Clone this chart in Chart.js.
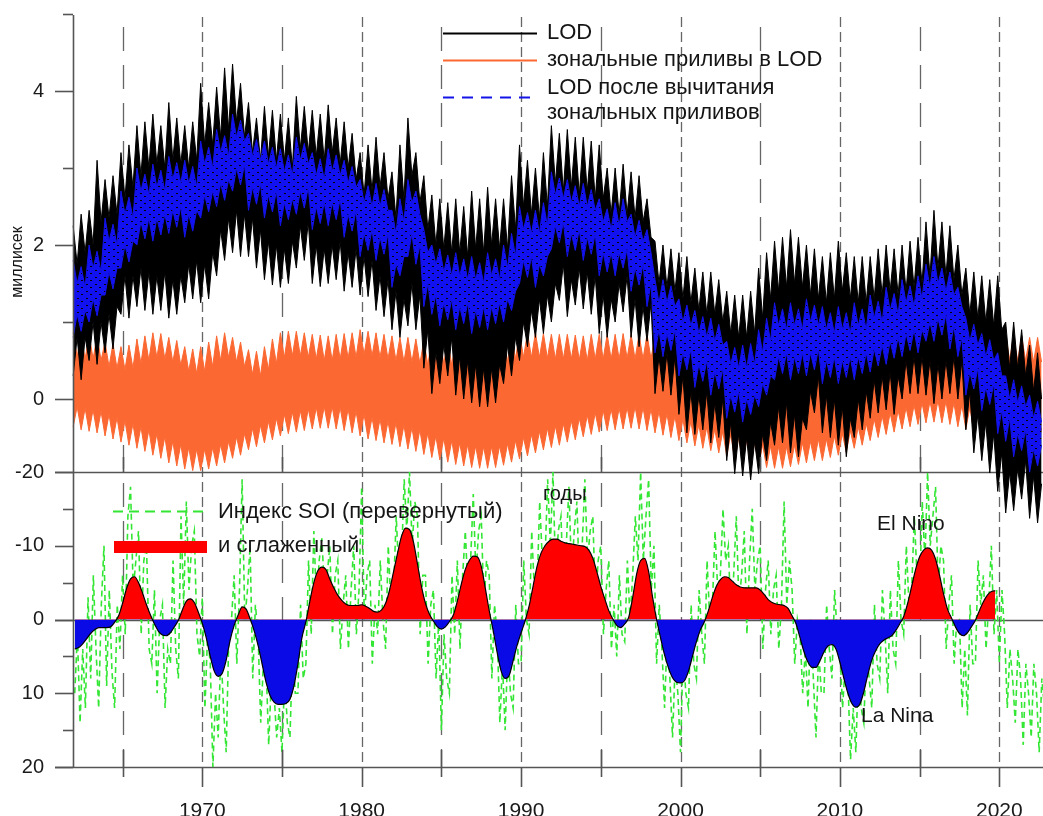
<!DOCTYPE html>
<html>
<head>
<meta charset="utf-8">
<script src="https://cdn.jsdelivr.net/npm/chart.js@4.4.0/dist/chart.umd.min.js"></script>
<style>
html, body { margin: 0; padding: 0; background: #fff; overflow: hidden; }
</style>
</head>
<body>
<canvas id="lod" width="1043" height="830"></canvas>
<script>
Chart.defaults.font.family = '"Liberation Sans", Arial, sans-serif';
Chart.defaults.color = '#1a1a1a';

// sampling: quarter-year steps for LOD and the smoothed SOI, two-month steps for raw SOI
var STEP = 0.25;
var SOI_STEP = 1 / 6;
var LOD_START = 1961.9;
var SOI_START = 1962.0;

var gridYears = [1965, 1970, 1975, 1980, 1985, 1990, 1995, 2000, 2005, 2010, 2015, 2020];
var lodTicks = [0, 2, 4];
var soiTicks = [-20, -10, 0, 10, 20];

// LOD, upper and lower edge of the black band (ms)
var lodHi = [
  2.25,1.75,2.4,1.9, 2.45,2.0,3.1,2.3, 2.85,2.35,2.9,2.4, 3.2,2.6,3.3,2.75, 3.55,2.9,3.6,3.0,
  3.7,3.05,3.55,3.0, 3.85,3.1,3.65,3.05, 3.55,3.0,3.6,3.1, 4.1,3.3,3.85,3.3, 4.05,3.4,4.3,3.5,
  4.35,3.6,4.1,3.4, 3.85,3.2,3.65,3.1, 3.8,3.15,3.75,3.1, 3.7,3.1,3.65,3.0, 3.93,3.25,3.8,3.2,
  3.75,3.15,3.7,3.1, 3.82,3.2,3.65,3.05, 3.6,3.0,3.45,2.85, 3.2,2.65,3.3,2.7, 3.4,2.75,3.2,2.6,
  2.95,2.35,3.3,2.6, 3.65,2.9,3.2,2.55, 2.9,2.2,2.65,2.0, 2.6,1.95,2.55,1.9, 2.6,1.9,2.5,1.85,
  2.7,1.95,2.6,1.9, 2.75,2.0,2.6,1.95, 2.6,1.95,2.9,2.2, 3.3,2.5,3.1,2.4, 3.0,2.35,3.2,2.5,
  3.55,2.8,3.45,2.7, 3.5,2.75,3.4,2.65, 3.4,2.7,3.35,2.6, 3.3,2.6,3.0,2.4, 3.0,2.4,3.05,2.4,
  2.95,2.35,2.9,2.3, 2.6,2.1,2.05,1.5, 2.0,1.45,1.95,1.4, 1.9,1.3,1.85,1.25, 1.7,1.15,1.65,1.1,
  1.65,1.1,1.55,1.0, 1.4,0.85,1.35,0.8, 1.35,0.8,1.4,0.85, 1.7,1.05,1.9,1.3, 2.05,1.4,2.1,1.45,
  2.2,1.5,2.1,1.45, 2.0,1.35,1.95,1.3, 1.85,1.25,1.9,1.3, 2.05,1.4,1.9,1.3, 1.85,1.25,1.85,1.25,
  1.85,1.3,1.95,1.35, 2.0,1.4,1.95,1.35, 2.0,1.4,2.05,1.45, 2.1,1.5,2.3,1.6, 2.45,1.7,2.3,1.6,
  2.25,1.55,2.0,1.35, 1.7,1.1,1.65,1.05, 1.6,1.0,1.55,0.95, 1.6,0.9,1.0,0.4, 1.0,0.4,0.9,0.3,
  0.7,0.1,0.6,0.0
];
var lodLo = [
  0.3,0.8,0.25,0.8, 0.5,1.0,0.45,1.0, 0.6,1.1,0.65,1.2, 1.1,1.6,1.05,1.6, 1.2,1.7,1.15,1.65,
  1.1,1.6,1.15,1.65, 1.05,1.55,1.1,1.6, 1.25,1.75,1.3,1.8, 1.25,1.75,1.3,1.9, 1.6,2.2,1.8,2.35,
  1.9,2.45,1.85,2.4, 1.85,2.35,1.7,2.2, 1.55,2.05,1.48,2.0, 1.45,1.95,1.5,2.05, 1.7,2.25,1.8,2.3,
  1.5,2.0,1.46,1.95, 1.5,2.0,1.55,2.05, 1.4,1.9,1.45,1.95, 1.35,1.85,1.33,1.8, 1.15,1.6,1.07,1.55,
  0.9,1.4,0.8,1.3, 0.95,1.5,0.9,1.35, 0.4,0.9,0.07,0.6, 0.2,0.7,0.3,0.8, 0.05,0.55,0.0,0.5,
  -0.05,0.45,-0.1,0.4, -0.1,0.4,-0.05,0.45, 0.2,0.7,0.3,0.8, 0.5,1.0,0.68,1.15, 0.8,1.3,0.85,1.35,
  1.0,1.5,1.28,1.75, 1.07,1.55,1.22,1.7, 1.17,1.65,1.1,1.6, 0.85,1.35,0.8,1.3, 1.0,1.5,1.13,1.6,
  0.8,1.3,0.68,1.2, 0.75,1.25,0.07,0.55, 0.1,0.6,0.05,0.55, -0.2,0.3,-0.44,0.1, -0.46,0.05,-0.4,0.1,
  -0.57,-0.05,-0.5,0.0, -0.8,-0.3,-0.97,-0.45, -1.0,-0.5,-1.05,-0.55, -0.97,-0.45,-0.8,-0.3, -0.6,-0.1,-0.57,-0.05,
  -0.7,-0.2,-0.75,-0.25, -0.4,0.1,-0.18,0.3, -0.44,0.05,-0.5,0.0, -0.6,-0.1,-0.75,-0.25, -0.5,0.0,-0.4,0.1,
  -0.25,0.25,-0.18,0.3, -0.14,0.35,-0.2,0.3, 0.0,0.5,0.07,0.55, 0.07,0.55,0.05,0.5, -0.06,0.45,0.0,0.5,
  0.07,0.55,0.0,0.5, -0.4,0.1,-0.7,-0.2, -0.8,-0.3,-0.96,-0.45, -1.2,-0.7,-1.48,-0.95, -1.45,-0.9,-1.3,-0.8,
  -1.55,-1.0,-1.61,-1.1
];

// LOD after removing the zonal tides (blue band)
var modHi = [
  1.8,1.5,1.72,1.45, 2.0,1.7,1.92,1.65, 2.35,2.05,2.27,2.0, 2.7,2.4,2.62,2.35, 3.0,2.7,2.92,2.65,
  3.05,2.75,2.97,2.7, 3.15,2.85,3.07,2.8, 3.1,2.8,3.02,2.75, 3.35,3.05,3.27,3.0, 3.5,3.2,3.42,3.15,
  3.7,3.4,3.62,3.35, 3.45,3.15,3.37,3.1, 3.35,3.05,3.27,3.0, 3.25,2.95,3.17,2.9, 3.4,3.1,3.32,3.05,
  3.2,2.9,3.12,2.85, 3.25,2.95,3.17,2.9, 3.1,2.8,3.02,2.75, 2.85,2.55,2.77,2.5, 2.8,2.5,2.72,2.45,
  2.45,2.15,2.6,2.3, 2.85,2.55,2.7,2.4, 2.2,1.9,2.0,1.75, 1.95,1.65,1.87,1.6, 1.9,1.6,1.82,1.55,
  1.85,1.55,1.77,1.5, 1.9,1.6,1.82,1.55, 2.0,1.7,2.15,1.85, 2.5,2.2,2.42,2.15, 2.45,2.15,2.55,2.25,
  2.95,2.65,2.87,2.6, 2.85,2.55,2.77,2.5, 2.8,2.5,2.72,2.45, 2.6,2.3,2.47,2.2, 2.55,2.25,2.6,2.3,
  2.4,2.1,2.32,2.05, 2.2,1.9,1.55,1.25, 1.55,1.25,1.47,1.2, 1.3,1.0,1.22,0.95, 1.15,0.85,1.07,0.8,
  1.05,0.75,0.97,0.7, 0.75,0.45,0.67,0.4, 0.7,0.4,0.72,0.45, 0.9,0.6,1.05,0.75, 1.25,0.95,1.17,0.9,
  1.25,0.95,1.17,0.9, 1.3,1.0,1.22,0.95, 1.2,0.9,1.12,0.85, 1.2,0.9,1.12,0.85, 1.25,0.95,1.17,0.9,
  1.35,1.05,1.27,1.0, 1.45,1.15,1.37,1.1, 1.55,1.25,1.47,1.2, 1.6,1.3,1.75,1.45, 1.85,1.5,1.7,1.4,
  1.65,1.35,1.45,1.2, 1.05,0.75,0.97,0.7, 0.85,0.55,0.77,0.5, 0.6,0.3,0.3,0.0, 0.25,-0.05,0.17,-0.1,
  0.05,-0.25,-0.03,-0.3
];
var modLo = [
  0.8,1.1,0.88,1.15, 1.0,1.3,1.08,1.35, 1.35,1.65,1.43,1.7, 1.7,2.0,1.78,2.05, 2.0,2.3,2.08,2.35,
  2.05,2.35,2.13,2.4, 2.15,2.45,2.23,2.5, 2.1,2.4,2.18,2.45, 2.35,2.65,2.43,2.7, 2.5,2.8,2.58,2.85,
  2.7,3.0,2.78,3.05, 2.45,2.75,2.53,2.8, 2.35,2.65,2.43,2.7, 2.25,2.55,2.33,2.6, 2.4,2.7,2.48,2.75,
  2.2,2.5,2.28,2.55, 2.25,2.55,2.33,2.6, 2.1,2.4,2.18,2.45, 1.85,2.15,1.93,2.2, 1.8,2.1,1.88,2.15,
  1.45,1.75,1.6,1.85, 1.85,2.15,1.75,2.0, 1.2,1.5,1.1,1.35, 0.95,1.25,1.03,1.3, 0.9,1.2,0.98,1.25,
  0.85,1.15,0.93,1.2, 0.9,1.2,0.98,1.25, 1.0,1.3,1.15,1.4, 1.5,1.8,1.58,1.85, 1.45,1.75,1.6,1.85,
  1.95,2.25,2.03,2.3, 1.85,2.15,1.93,2.2, 1.8,2.1,1.88,2.15, 1.6,1.9,1.65,1.9, 1.6,1.9,1.7,1.95,
  1.4,1.7,1.48,1.75, 1.2,1.5,0.6,0.9, 0.55,0.85,0.63,0.9, 0.3,0.6,0.38,0.65, 0.15,0.45,0.23,0.5,
  0.05,0.35,0.13,0.4, -0.25,0.05,-0.17,0.1, -0.3,0.0,-0.2,0.05, -0.1,0.2,0.05,0.3, 0.25,0.55,0.33,0.6,
  0.25,0.55,0.33,0.6, 0.3,0.6,0.38,0.65, 0.2,0.5,0.28,0.55, 0.2,0.5,0.28,0.55, 0.25,0.55,0.33,0.6,
  0.35,0.65,0.43,0.7, 0.45,0.75,0.53,0.8, 0.55,0.85,0.63,0.9, 0.6,0.9,0.75,1.0, 0.75,1.05,0.83,1.1,
  0.65,0.95,0.55,0.8, 0.05,0.35,0.13,0.4, -0.15,0.15,-0.07,0.2, -0.45,-0.15,-0.55,-0.25, -0.75,-0.45,-0.67,-0.4,
  -0.95,-0.65,-0.87,-0.6
];

// zonal tides in LOD (orange band)
var tideHi = [
  .86,.55,.84,.52, .84,.52,.82,.5, .74,.42,.72,.4, .68,.38,.7,.4, .78,.46,.82,.5,
  .86,.54,.85,.52, .8,.48,.76,.44, .68,.36,.65,.33, .68,.36,.74,.42, .82,.5,.86,.54,
  .8,.48,.74,.42, .64,.32,.62,.3, .68,.38,.78,.46, .86,.54,.88,.56, .88,.56,.86,.54,
  .84,.52,.83,.5, .82,.5,.84,.52, .85,.53,.86,.54, .9,.58,.88,.56, .86,.54,.84,.52,
  .82,.5,.8,.48, .8,.48,.78,.46, .76,.44,.78,.46, .78,.46,.76,.44, .74,.42,.76,.44,
  .76,.44,.74,.42, .72,.4,.76,.44, .8,.48,.84,.52, .86,.54,.86,.54, .86,.54,.85,.53,
  .84,.52,.84,.52, .84,.52,.83,.51, .82,.5,.84,.52, .84,.52,.84,.52, .84,.52,.85,.53,
  .84,.52,.84,.52, .84,.52,.83,.51, .84,.52,.84,.52, .84,.52,.83,.51, .82,.5,.82,.5,
  .8,.48,.8,.48, .8,.48,.79,.47, .78,.46,.78,.46, .76,.44,.76,.44, .76,.44,.77,.45,
  .78,.46,.79,.47, .8,.48,.81,.49, .82,.5,.83,.51, .84,.52,.84,.52, .84,.52,.85,.53,
  .84,.52,.85,.53, .86,.54,.86,.54, .86,.54,.86,.54, .86,.54,.87,.55, .86,.54,.86,.54,
  .86,.54,.85,.53, .84,.52,.84,.52, .84,.52,.84,.52, .84,.52,.83,.51, .82,.5,.82,.5,
  .8,.48,.8,.48
];
var tideLo = [
  -.36,-.1,-.4,-.12, -.42,-.14,-.44,-.16, -.48,-.2,-.52,-.24, -.56,-.28,-.6,-.32, -.64,-.36,-.68,-.4,
  -.73,-.45,-.77,-.49, -.83,-.55,-.87,-.59, -.91,-.63,-.93,-.65, -.93,-.65,-.91,-.63, -.87,-.59,-.83,-.55,
  -.77,-.49,-.73,-.45, -.66,-.38,-.62,-.34, -.57,-.29,-.53,-.25, -.48,-.2,-.45,-.17, -.43,-.15,-.41,-.13,
  -.39,-.11,-.38,-.1, -.38,-.1,-.39,-.11, -.41,-.13,-.44,-.16, -.48,-.2,-.52,-.24, -.54,-.26,-.57,-.29,
  -.59,-.31,-.62,-.34, -.65,-.37,-.68,-.4, -.72,-.44,-.76,-.48, -.79,-.51,-.82,-.54, -.85,-.57,-.87,-.59,
  -.89,-.61,-.9,-.62, -.9,-.62,-.89,-.61, -.86,-.58,-.82,-.54, -.78,-.5,-.74,-.46, -.7,-.42,-.66,-.38,
  -.63,-.35,-.6,-.32, -.56,-.28,-.53,-.25, -.49,-.21,-.46,-.18, -.43,-.15,-.41,-.13, -.4,-.12,-.39,-.11,
  -.38,-.1,-.39,-.11, -.41,-.13,-.44,-.16, -.47,-.19,-.5,-.22, -.54,-.26,-.57,-.29, -.61,-.33,-.64,-.36,
  -.67,-.39,-.7,-.42, -.74,-.46,-.78,-.5, -.81,-.53,-.84,-.56, -.87,-.59,-.89,-.61, -.9,-.62,-.9,-.62,
  -.88,-.6,-.85,-.57, -.83,-.55,-.8,-.52, -.8,-.52,-.76,-.48, -.73,-.45,-.69,-.41, -.64,-.36,-.6,-.32,
  -.54,-.26,-.5,-.22, -.46,-.18,-.43,-.15, -.39,-.11,-.36,-.08, -.33,-.05,-.31,-.03, -.3,-.02,-.31,-.03,
  -.33,-.05,-.36,-.08, -.39,-.11,-.42,-.14, -.45,-.17,-.48,-.2, -.51,-.23,-.54,-.26, -.57,-.29,-.6,-.32,
  -.63,-.35,-.66,-.38
];

// SOI index, inverted (green dashed), six values a year
var soiRaw = [
  10,2,14,4,12,-3, 8,-6,4,12,-2,-10, 9,-4,7,12,-2,4, -6,2,-14,-18,-4,-8, -12,2,-8,-10,4,6,
  -4,10,0,-2,12,4, 6,-8,4,8,-14,-2, -16,-4,-10,-12,2,5, -3,12,2,6,20,10, 16,4,12,18,2,0,
  -6,6,-4,-19,0,-4, -10,8,-2,2,14,6, 6,17,8,10,16,12, 18,8,14,16,4,10, 10,-2,8,6,-8,2,
  -12,-2,-8,-11,-4,-6, -10,2,-6,-8,4,-2, -6,4,-4,-10,2,-4, -18,0,-6,-8,6,-2, 2,-8,0,4,-10,-2,
  -4,-14,-6,-8,-19,-12, -20,-10,-16,-14,2,-6, -6,6,-2,-4,8,0, 15,2,8,10,-6,2, -8,4,-6,-12,-4,-8,
  -17,-6,-12,-14,-2,-8, -6,8,-2,2,14,6, 15,4,10,12,-2,6, 6,-8,0,2,-12,-4, -4,-16,-8,-8,-19,-10,
  -20,-6,-12,-14,-4,-10, -18,-6,-12,-16,-4,-10, -19,-8,-12,-14,-2,-8, -10,2,-4,-8,4,-2, 5,-6,2,3,-8,0,
  -6,-14,-8,-20,-8,-14, -19,-4,-10,6,-2,4, 12,2,8,16,6,10, 18,4,10,12,-2,6, 8,-4,2,6,-8,0,
  -2,-12,-4,-6,-15,-8, -10,0,-6,-14,-2,-6, -12,2,-8,-15,-4,-8, -10,4,-4,-8,2,-4, -6,4,-2,-16,-2,-8,
  -4,6,0,2,10,4, 12,0,8,16,4,10, 10,-2,4,8,-4,2, 4,12,6,8,19,12, 18,6,12,14,4,8,
  12,-2,6,8,-4,2, 10,-4,4,6,-8,0, 2,-10,-2,-4,-14,-6, -4,-16,-8,-20,-10,-14, -18,-4,-10,-8,4,-2,
  -6,6,0,0,12,4, 13,-2,6,6,-8,-2, -6,4,-2,-10,2,-4, 6,-4,2,12,4,8, 14,4,8,17,6,10,
  16,6,10,18,8,12
];

// smoothed inverted SOI (red / blue fill)
var soiSmooth = [
  4.0,3.8,3.3,2.6, 1.9,1.4,1.1,1.1, 1.1,1.0,0.4,-0.5, -2.2,-4.2,-5.5,-5.8, -5.0,-3.6,-2.0,-0.6,
  0.6,1.6,2.1,2.2, 1.8,1.0,0.1,-1.3, -2.5,-2.8,-2.3,-1.0, 0.5,2.5,5.0,7.0, 7.7,7.3,5.5,2.8,
  0.8,-0.6,-1.7,-1.4, -0.1,1.5,3.5,6.0, 8.5,10.3,11.2,11.5, 11.5,11.4,10.8,9.0, 6.0,2.5,0.3,-2.5,
  -5.0,-6.6,-7.1,-6.8, -5.5,-4.3,-3.3,-2.6, -2.1,-1.9,-1.9,-1.9, -2.0,-1.8,-1.5,-1.1, -1.0,-1.3,-2.2,-4.0,
  -6.5,-9.0,-11.3,-12.4, -12.2,-10.5,-7.5,-4.5, -2.2,-0.7,0.2,1.0, 1.3,1.0,0.3,-0.6, -2.5,-4.8,-6.8,-8.0,
  -8.6,-8.5,-7.2,-4.3, -1.2,1.5,4.5,7.0, 8.0,7.6,5.6,3.5, 1.8,0.2,-1.8,-4.5, -7.2,-9.0,-10.0,-10.6,
  -10.9,-10.9,-10.6,-10.4, -10.3,-10.2,-10.1,-10.0, -9.9,-9.4,-8.3,-6.5, -4.5,-2.8,-1.2,-0.1, 0.8,1.1,0.6,-0.3,
  -3.0,-6.2,-8.0,-8.3, -6.5,-3.0,0.0,2.5, 4.8,6.6,7.9,8.5, 8.6,8.3,7.0,5.0, 3.0,1.4,0.3,-1.2,
  -3.0,-4.5,-5.4,-5.8, -5.7,-5.2,-4.7,-4.4, -4.3,-4.3,-4.3,-4.3, -4.0,-3.4,-2.7,-2.3, -2.1,-2.0,-1.9,-1.5,
  -0.5,0.6,2.5,4.4, 5.8,6.5,6.5,5.6, 4.4,3.6,3.4,4.0, 5.8,8.0,10.0,11.4, 11.9,11.5,9.8,7.5,
  5.5,4.2,3.3,2.8, 2.5,2.2,1.5,0.6, -0.4,-2.2,-4.5,-6.8, -8.5,-9.4,-9.7,-9.4, -8.2,-6.0,-3.5,-1.4,
  -0.2,1.0,1.9,2.2, 1.8,1.0,0.1,-1.2, -2.4,-3.3,-3.8,-3.9
];

var BLACK = '#000000';
var ORANGE = '#fb6832';
var BLUE = '#1414e8';
var GREEN = '#33e633';
var RED = '#ff0000';
var SOI_BLUE = '#0a0ae6';
var AXIS = '#555555';

// blue band texture: blue dashes with black showing through the gaps
function speckle() {
  var c = document.createElement('canvas');
  c.width = 9; c.height = 7;
  var g = c.getContext('2d');
  g.fillStyle = '#1212f0';
  g.fillRect(0, 0, 9, 7);
  g.fillStyle = '#000';
  g.fillRect(0, 0, 2, 1);
  g.fillRect(5, 4, 2, 1);
  return g.createPattern(c, 'repeat');
}

function pts(arr, t0, step) {
  return arr.map(function (v, i) { return { x: t0 + i * step, y: v }; });
}

function band(hi, lo, color, fillColor, order) {
  return [
    { data: pts(hi, LOD_START, STEP), yAxisID: 'lod', borderColor: color, borderWidth: 1,
      pointRadius: 0, fill: false, order: order, clip: false },
    { data: pts(lo, LOD_START, STEP), yAxisID: 'lod', borderColor: color, backgroundColor: fillColor,
      borderWidth: 1, pointRadius: 0, fill: '-1', order: order, clip: false }
  ];
}

var frame = {
  id: 'frame',
  beforeDatasetsDraw: function (chart) {
    var ctx = chart.ctx, x = chart.scales.x, lod = chart.scales.lod, soi = chart.scales.soi;
    var R = chart.chartArea.right, L = chart.chartArea.left;
    ctx.save();
    ctx.strokeStyle = '#666';
    ctx.lineWidth = 1.3;
    gridYears.forEach(function (v) {
      var px = Math.round(x.getPixelForValue(v)) + 0.5;
      var decade = v % 10 === 0;
      ctx.setLineDash(decade ? [10, 5] : [24, 14]);
      ctx.beginPath();
      ctx.moveTo(px, lod.top + (decade ? 2 : 12));
      ctx.lineTo(px, soi.bottom);
      ctx.stroke();
    });
    ctx.setLineDash([]);
    ctx.strokeStyle = AXIS;
    ctx.lineWidth = 1.6;
    [-20, 0, 20].forEach(function (v) {
      var py = Math.round(soi.getPixelForValue(v)) + 0.5;
      ctx.beginPath();
      ctx.moveTo(L - 18, py);
      ctx.lineTo(R, py);
      ctx.stroke();
    });
    ctx.restore();
  },
  afterDatasetsDraw: function (chart) {
    var ctx = chart.ctx, x = chart.scales.x, lod = chart.scales.lod, soi = chart.scales.soi;
    var L = chart.chartArea.left;
    ctx.save();
    ctx.strokeStyle = AXIS;
    ctx.lineWidth = 1.6;
    ctx.beginPath();
    ctx.moveTo(L + 0.5, lod.top);
    ctx.lineTo(L + 0.5, soi.bottom);
    ctx.stroke();
    // y tick marks
    var i, py;
    for (i = 0; i <= 5; i++) {
      py = Math.round(lod.getPixelForValue(i)) + 0.5;
      ctx.beginPath();
      ctx.moveTo(L - (i % 2 === 0 ? 18 : 10), py);
      ctx.lineTo(L, py);
      ctx.stroke();
    }
    for (i = -20; i <= 20; i += 5) {
      py = Math.round(soi.getPixelForValue(i)) + 0.5;
      ctx.beginPath();
      ctx.moveTo(L - (i % 10 === 0 ? 18 : 10), py);
      ctx.lineTo(L, py);
      ctx.stroke();
    }
    // x tick marks
    var yMid = soi.top, yBot = soi.bottom;
    gridYears.forEach(function (v) {
      var px = Math.round(x.getPixelForValue(v)) + 0.5;
      ctx.beginPath();
      if (v % 10 === 0) {
        ctx.moveTo(px, yBot);
        ctx.lineTo(px, yBot + 20);
      } else {
        ctx.moveTo(px, yMid - 15);
        ctx.lineTo(px, yMid);
        ctx.moveTo(px, yBot - 17);
        ctx.lineTo(px, yBot + 10);
      }
      ctx.stroke();
    });

    // y axis title
    ctx.fillStyle = '#151515';
    ctx.save();
    ctx.translate(18, 262);
    ctx.rotate(-Math.PI / 2);
    ctx.textAlign = 'center';
    ctx.textBaseline = 'middle';
    ctx.font = '16px "Liberation Sans", Arial, sans-serif';
    ctx.fillText('миллисек', 0, 0);
    ctx.restore();

    // legends
    function sample(x0, x1, y, color, w, dash) {
      ctx.strokeStyle = color;
      ctx.lineWidth = w;
      ctx.setLineDash(dash);
      ctx.beginPath();
      ctx.moveTo(x0, y);
      ctx.lineTo(x1, y);
      ctx.stroke();
      ctx.setLineDash([]);
    }
    ctx.textBaseline = 'middle';
    ctx.textAlign = 'left';
    ctx.font = '22px "Liberation Sans", Arial, sans-serif';
    sample(443, 537, 33.5, BLACK, 2, []);
    ctx.fillText('LOD', 547, 33);
    sample(443, 537, 60.5, ORANGE, 2, []);
    ctx.fillText('зональные приливы в LOD', 547, 60);
    sample(443, 533, 97.5, BLUE, 2, [11, 8]);
    ctx.fillText('LOD после вычитания', 547, 88);
    ctx.fillText('зональных приливов', 547, 113);

    sample(113, 203, 511.5, GREEN, 2, [10, 6]);
    ctx.fillText('Индекс SOI (перевернутый)', 218, 512);
    ctx.fillStyle = RED;
    ctx.fillRect(114, 541, 93, 12);
    ctx.fillStyle = '#151515';
    ctx.fillText('и сглаженный', 218, 546);

    ctx.font = '20px "Liberation Sans", Arial, sans-serif';
    ctx.fillText('годы', 543, 494);
    ctx.font = '21px "Liberation Sans", Arial, sans-serif';
    ctx.fillText('El Nino', 877, 524);
    ctx.fillText('La Nina', 861, 716);
    ctx.restore();
  }
};

var datasets = []
  .concat(band(tideHi, tideLo, ORANGE, ORANGE, 6))
  .concat(band(lodHi, lodLo, BLACK, BLACK, 5))
  .concat(band(modHi, modLo, BLUE, speckle(), 4))
  .concat([
    { data: pts(soiRaw, SOI_START, SOI_STEP), yAxisID: 'soi', borderColor: GREEN, borderWidth: 1.6,
      borderDash: [6, 4], pointRadius: 0, fill: false, order: 3 },
    { data: pts(soiSmooth, SOI_START, STEP), yAxisID: 'soi', borderColor: BLACK, borderWidth: 1.2,
      pointRadius: 0, cubicInterpolationMode: 'monotone',
      fill: { target: { value: 0 }, above: RED, below: SOI_BLUE }, order: 2 }
  ]);

// invisible tick marks just push the labels away from the axis
var hiddenTicks = function (len) {
  return { display: true, drawOnChartArea: false, drawTicks: true, tickLength: len,
           color: 'rgba(0,0,0,0)', tickColor: 'rgba(0,0,0,0)' };
};

new Chart(document.getElementById('lod'), {
  type: 'line',
  data: { datasets: datasets },
  plugins: [frame],
  options: {
    responsive: false,
    animation: false,
    layout: { padding: { top: 15, left: 0, right: 0, bottom: 0 } },
    plugins: { legend: { display: false }, tooltip: { enabled: false } },
    scales: {
      x: {
        type: 'linear', min: 1961.89, max: 2022.74,
        afterBuildTicks: function (s) { s.ticks = gridYears.map(function (v) { return { value: v }; }); },
        afterFit: function (s) { s.height = 830 - 767; },
        grid: hiddenTicks(30),
        border: { display: false },
        ticks: {
          autoSkip: false, maxRotation: 0, padding: 2, font: { size: 21 },
          callback: function (v) { return v % 10 === 0 ? String(v) : ''; }
        }
      },
      lod: {
        type: 'linear', position: 'left', stack: 'panels', stackWeight: 457, weight: 1,
        min: -0.948, max: 4.987,
        afterBuildTicks: function (s) { s.ticks = lodTicks.map(function (v) { return { value: v }; }); },
        afterFit: function (s) { s.width = 73; },
        grid: hiddenTicks(26),
        border: { display: false },
        ticks: { padding: 3, font: { size: 20 } }
      },
      soi: {
        type: 'linear', position: 'left', stack: 'panels', stackWeight: 295, weight: 0,
        min: -20, max: 20, reverse: true,
        afterBuildTicks: function (s) { s.ticks = soiTicks.map(function (v) { return { value: v }; }); },
        afterFit: function (s) { s.width = 73; },
        grid: hiddenTicks(26),
        border: { display: false },
        ticks: { padding: 3, font: { size: 20 } }
      }
    }
  }
});
</script>
</body>
</html>
